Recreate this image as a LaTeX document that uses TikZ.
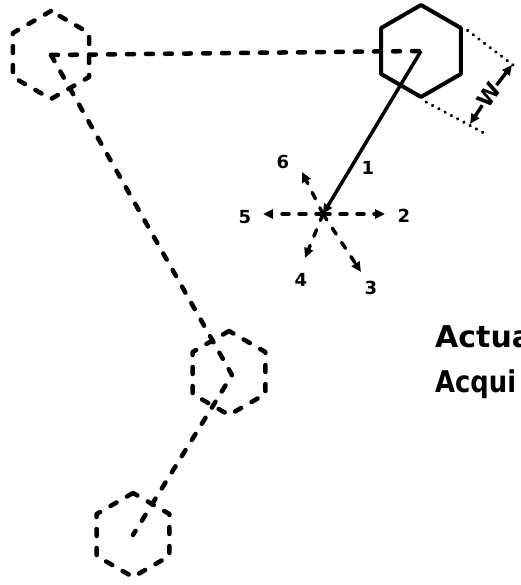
\documentclass[tikz,border=0pt]{standalone}
\usepackage{fontspec}
\setmainfont{DejaVu Sans}
\usetikzlibrary{arrows.meta,shapes.geometric}

\begin{document}
\begin{tikzpicture}[
    x=1pt, y=-1pt,
    >={Triangle[length=10pt,width=9pt]},
    hexa/.style={draw, regular polygon, regular polygon sides=6, shape border rotate=30,
                 minimum size=#1, inner sep=0pt, line width=4pt, line join=round},
    ghost/.style={line width=4.5pt, dash pattern=on 7pt off 12pt, line cap=round, line join=round},
    move/.style={line width=3.5pt, dash pattern=on 7pt off 10pt, line cap=round},
    measure/.style={line width=3.5pt, dash pattern=on 0.1pt off 7pt, line cap=round},
    digit/.style={font=\fontsize{18}{18}\selectfont\bfseries},
    caption/.style={font=\fontsize{30}{30}\selectfont\bfseries, anchor=base west, inner sep=0pt}
]
  \useasboundingbox (0,0) rectangle (520,585);

  % Hexagons: previous positions dashed, current one solid
  \node[hexa=88, ghost] (h1) at (51,55) {};
  \node[hexa=92] (h2) at (421,51) {};
  \node[hexa=84, ghost] (h3) at (229,373) {};
  \node[hexa=84, ghost] (h4) at (133,535) {};

  % Path of the earlier positions
  \draw[ghost] (h1.center) -- (h2.center);
  \draw[ghost] (h1.center) -- (232,375) -- (h4.center);

  % Step to the cross
  \coordinate (x) at (323,214);
  \draw[line width=3.5pt, ->] (h2.center) -- (x);

  % Tips of the candidate moves
  \coordinate (t2) at (385,214);
  \coordinate (t3) at (361,272);
  \coordinate (t4) at (305,258);
  \coordinate (t5) at (263,214);
  \coordinate (t6) at (302,172);
  \draw[move, ->] (x) -- (t2);
  \draw[move, ->] (x) -- (t3);
  \draw[move, ->] (x) -- (t4);
  \draw[move, ->] (x) -- (t5);
  \draw[move, ->] (x) -- (t6);

  % Move numbers
  \node[digit] (l1) at (368,168) {1};
  \node[digit] (l2) at (404,216) {2};
  \node[digit] (l3) at (371,288) {3};
  \node[digit] (l4) at (301,280) {4};
  \node[digit] (l5) at (245,217) {5};
  \node[digit] (l6) at (283,162) {6};

  % Width W
  \coordinate (w1) at (517,68);
  \coordinate (w2) at (484,133);
  \draw[measure, shorten <=6pt] (h2.30) -- (w1);
  \draw[measure, shorten <=6pt] (h2.-90) -- (w2);
  \node[font=\fontsize{22}{22}\selectfont\bfseries, rotate=55, inner sep=0pt] (w) at (489,95) {W};
  \draw[line width=3.5pt, ->] (w) -- (512,65);
  \draw[line width=3.5pt, ->] (w) -- (470,124);

  % Caption
  \node[caption] (act) at (435,347) {Actua};
  \node[caption] (acq) at (435,392) {\scalebox{0.86}[1]{Acqui}};
\end{tikzpicture}
\end{document}
